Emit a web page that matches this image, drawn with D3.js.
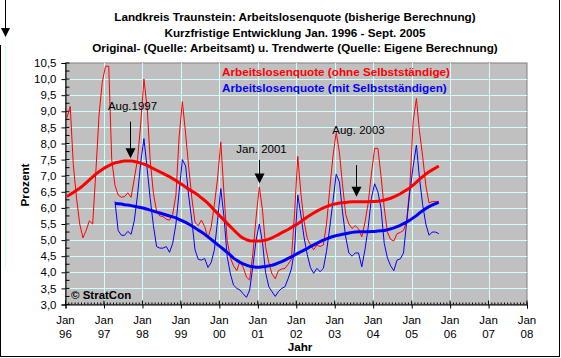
<!DOCTYPE html>
<html><head><meta charset="utf-8">
<script src="https://cdn.jsdelivr.net/npm/d3@7/dist/d3.min.js"></script>
<style>
body{margin:0;background:#fff}
svg{display:block}
text{font-family:"Liberation Sans",Arial,Helvetica,sans-serif;}
</style>
</head><body>
<svg id="chart" width="561" height="358"></svg>
<script>
// ---------- data ----------
const titleLines = [
  "Landkreis Traunstein: Arbeitslosenquote (bisherige Berechnung)",
  "Kurzfristige Entwicklung Jan. 1996 - Sept. 2005",
  "Original- (Quelle: Arbeitsamt) u. Trendwerte (Quelle: Eigene Berechnung)"
];
const seriesNames = [
  "Arbeitslosenquote (ohne Selbstständige)",
  "Arbeitslosenquote (mit Selbstständigen)"
];
const xTickYears = ["96","97","98","99","00","01","02","03","04","05","06","07","08"];
const yTickValues = [3.0,3.5,4.0,4.5,5.0,5.5,6.0,6.5,7.0,7.5,8.0,8.5,9.0,9.5,10.0,10.5];
const yAxisTitle = "Prozent";
const xAxisTitle = "Jahr";
const copyright = "© StratCon";

// monthly series, red from Jan 1996, blue from Apr 1997, both to Sept 2005
const redStart = [1996, 0];
const blueStart = [1997, 3];

const redOriginal = [
  8.8, 9.15, 7.35, 6.3, 5.5, 5.07, 5.3, 5.6, 5.5, 7.1, 8.9, 9.9,
  10.4, 10.4, 7.5, 6.7, 6.4, 6.33, 6.35, 6.47, 6.33, 6.9, 7.5, 8.6,
  10.0, 9.1, 7.5, 6.45, 5.9, 5.75, 5.73, 5.65, 5.62, 5.8, 6.4, 8.2,
  9.3, 8.3, 7.3, 6.3, 5.55, 5.45, 5.62, 5.42, 5.06, 5.4, 6.1, 6.9,
  8.05, 6.4, 5.0, 4.45, 4.2, 4.05, 4.35, 4.15, 3.85, 3.76, 4.6, 5.7,
  6.65, 5.9, 4.8, 4.3, 3.95, 3.8, 4.05, 4.1, 4.12, 4.25, 4.4, 5.8,
  7.6, 6.4, 5.6, 5.05, 4.85, 4.7, 4.85, 4.8, 4.85, 5.5, 6.6, 7.6,
  8.35, 7.7, 6.75, 5.8, 5.5, 5.36, 5.45, 5.35, 5.1, 5.55, 6.15, 7.05,
  7.85, 7.85, 7.0, 6.0, 5.25, 5.02, 4.97, 5.2, 5.24, 5.3, 5.6, 6.7,
  8.7, 9.4, 8.4, 7.6, 6.7, 6.15, 6.2, 6.2, 6.2
];
const blueOriginal = [
  6.2, 5.3, 5.15, 5.15, 5.27, 5.18, 5.6, 6.4, 7.4,
  8.15, 7.2, 6.3, 5.45, 4.8, 4.75, 4.75, 4.8, 4.62, 4.9, 5.5, 6.5,
  7.5, 7.3, 6.4, 5.6, 4.7, 4.4, 4.38, 4.43, 4.15, 4.3, 4.7, 5.6,
  6.6, 5.7, 4.5, 3.95, 3.6, 3.5, 3.45, 3.33, 3.22, 3.45, 4.2, 5.0,
  5.5, 4.9, 4.0, 3.55, 3.4, 3.25, 3.4, 3.5, 3.55, 3.8, 4.1, 4.7,
  6.4, 5.75, 5.1, 4.55, 4.15, 3.97, 4.12, 4.02, 4.12, 4.65, 5.4, 6.2,
  7.05, 6.8, 5.9, 5.1, 4.6, 4.5, 4.6, 4.6, 4.17, 4.7, 5.4, 6.3,
  6.75, 6.5, 6.0, 4.9, 4.45, 4.2, 4.05, 4.38, 4.42, 4.6, 5.6, 6.5,
  7.3, 7.95, 6.95, 6.1, 5.5, 5.15, 5.25, 5.25, 5.2
];
const redTrend = [
  6.35, 6.42, 6.48, 6.55, 6.61, 6.69, 6.78, 6.87, 6.96, 7.05, 7.12, 7.19,
  7.26, 7.31, 7.36, 7.40, 7.42, 7.44, 7.46, 7.46, 7.46, 7.44, 7.42, 7.39,
  7.36, 7.32, 7.27, 7.22, 7.17, 7.12, 7.07, 7.02, 6.97, 6.91, 6.85, 6.78,
  6.72, 6.65, 6.58, 6.52, 6.46, 6.39, 6.31, 6.23, 6.14, 6.04, 5.93, 5.83,
  5.72, 5.62, 5.52, 5.42, 5.32, 5.22, 5.13, 5.06, 5.01, 4.98, 4.97, 4.97,
  4.97, 4.98, 5.00, 5.03, 5.07, 5.12, 5.17, 5.23, 5.28, 5.33, 5.39, 5.45,
  5.51, 5.58, 5.65, 5.72, 5.78, 5.84, 5.90, 5.95, 6.00, 6.04, 6.08, 6.11,
  6.13, 6.15, 6.16, 6.17, 6.18, 6.19, 6.19, 6.19, 6.19, 6.19, 6.19, 6.20,
  6.20, 6.21, 6.22, 6.24, 6.27, 6.30, 6.34, 6.39, 6.44, 6.50, 6.56, 6.63,
  6.71, 6.80, 6.89, 6.97, 7.05, 7.12, 7.18, 7.24, 7.30
];
const blueTrend = [
  6.14, 6.13, 6.12, 6.10, 6.09, 6.07, 6.05, 6.03, 6.01,
  5.99, 5.96, 5.93, 5.90, 5.87, 5.84, 5.81, 5.78, 5.75, 5.72, 5.69, 5.64,
  5.60, 5.55, 5.50, 5.44, 5.38, 5.31, 5.25, 5.18, 5.10, 5.02, 4.94, 4.86,
  4.78, 4.70, 4.62, 4.53, 4.44, 4.37, 4.31, 4.26, 4.22, 4.19, 4.17, 4.16,
  4.16, 4.17, 4.18, 4.20, 4.22, 4.25, 4.29, 4.33, 4.38, 4.43, 4.48, 4.53,
  4.59, 4.64, 4.69, 4.74, 4.80, 4.85, 4.90, 4.95, 5.00, 5.04, 5.08, 5.11,
  5.14, 5.16, 5.18, 5.20, 5.22, 5.24, 5.25, 5.26, 5.26, 5.26, 5.26, 5.27,
  5.27, 5.28, 5.29, 5.30, 5.32, 5.35, 5.38, 5.42, 5.46, 5.51, 5.56, 5.62,
  5.69, 5.76, 5.84, 5.91, 5.98, 6.04, 6.09, 6.13, 6.17
];
// annotations: label, decimal year of arrow, arrow top/bottom value, label value
const annoLabels = ["Aug.1997", "Jan. 2001", "Aug. 2003"];
const annoYears  = [1997.67, 2001.04, 2003.55];
const annoTop    = [8.68, 7.49, 7.33];
const annoBottom = [7.54, 6.76, 6.35];
const annoText   = [9.05, 7.72, 8.3];

// ---------- chart ----------
const svg = d3.select("#chart");
const W = 561, H = 358;
const plot = {left: 65.5, right: 527, top: 63, bottom: 304.5};
const x = d3.scaleTime()
  .domain([new Date(1996,0,1), new Date(2008,0,1)])
  .range([plot.left, plot.right]);
const y = d3.scaleLinear().domain([3, 10.5]).range([plot.bottom, plot.top]);
const yearFrac = v => { const yr = Math.floor(v); return new Date(yr, 0, 1 + Math.round((v-yr)*365)); };
const FONT = "Liberation Sans, Arial, sans-serif";

// outer frame
svg.append("rect").attr("x",0).attr("y",0).attr("width",W).attr("height",H).attr("fill","#fff");
svg.append("line").attr("x1",559.5).attr("x2",559.5).attr("y1",0).attr("y2",357).attr("stroke","#000").attr("stroke-width",1);
svg.append("line").attr("x1",0).attr("x2",560).attr("y1",356.5).attr("y2",356.5).attr("stroke","#000").attr("stroke-width",1);
svg.append("line").attr("x1",0.5).attr("x2",0.5).attr("y1",45).attr("y2",357).attr("stroke","#000").attr("stroke-width",1);

// top-left arrow
svg.append("line").attr("x1",5.5).attr("x2",5.5).attr("y1",0).attr("y2",30).attr("stroke","#000");
svg.append("path").attr("d","M1,28 L10,28 L5.5,37 Z").attr("fill","#000");
svg.append("line").attr("x1",5.5).attr("x2",5.5).attr("y1",37).attr("y2",268).attr("stroke","#ccffff");

// title
svg.append("g").selectAll("text").data(titleLines).join("text")
  .attr("x", 295).attr("y", (d,i) => 21 + i*15.5)
  .attr("text-anchor","middle").attr("font-size","11.7px").attr("font-weight","bold")
  .text(d => d);

// plot background
svg.append("rect").attr("x",plot.left).attr("y",plot.top)
  .attr("width",plot.right-plot.left).attr("height",plot.bottom-plot.top)
  .attr("fill","#c0c0c0").attr("stroke","#808080").attr("stroke-width",1);

// gridlines
const grid = svg.append("g").attr("stroke","#ccffff").attr("stroke-width",1);
grid.selectAll("line.h").data(yTickValues.filter(v => v>3 && v<10.5)).join("line")
  .attr("x1",plot.left).attr("x2",plot.right)
  .attr("y1",d=>Math.round(y(d))+0.5).attr("y2",d=>Math.round(y(d))+0.5);
const yearDates = xTickYears.map((s,i) => new Date(1996+i,0,1));
grid.selectAll("line.v").data(yearDates.slice(1,-1)).join("line")
  .attr("y1",plot.top).attr("y2",plot.bottom)
  .attr("x1",d=>Math.round(x(d))+0.5).attr("x2",d=>Math.round(x(d))+0.5);

// y axis
const yAxis = d3.axisLeft(y).tickValues(yTickValues)
  .tickFormat(d => d.toFixed(1).replace(".", ",")).tickSize(4).tickPadding(5);
const gy = svg.append("g").attr("transform",`translate(${plot.left},0)`).call(yAxis);
gy.select(".domain").attr("stroke","#000");
gy.selectAll("text").attr("font-size","11.5px").attr("fill","#000").attr("font-family",FONT);
const yMinor = d3.range(3, 10.5001, 0.25);
gy.append("g").selectAll("line").data(yMinor).join("line")
  .attr("x1",0).attr("x2",4).attr("y1",d=>y(d)).attr("y2",d=>y(d)).attr("stroke","#000");

// x axis
const xAxis = d3.axisBottom(x).tickValues(yearDates).tickFormat("").tickSize(4);
const gx = svg.append("g").attr("transform",`translate(0,${plot.bottom})`).call(xAxis);
gx.select(".domain").attr("stroke","#000");
const monthDates = d3.timeMonth.range(new Date(1996,0,1), new Date(2008,0,2));
gx.append("g").selectAll("line").data(monthDates).join("line")
  .attr("x1",d=>x(d)).attr("x2",d=>x(d)).attr("y1",0).attr("y2",-2).attr("stroke","#000");
gx.append("g").selectAll("line").data(yearDates).join("line")
  .attr("x1",d=>x(d)).attr("x2",d=>x(d)).attr("y1",0).attr("y2",-4).attr("stroke","#000");
const xl = gx.append("g").attr("fill","#000").selectAll("text").data(xTickYears).join("text")
  .attr("x",(d,i)=>x(yearDates[i])).attr("text-anchor","middle")
  .attr("font-size","11.5px").attr("font-family",FONT).attr("fill","#000");
xl.append("tspan").attr("x",(d,i)=>x(yearDates[i])).attr("y",19).text("Jan");
xl.append("tspan").attr("x",(d,i)=>x(yearDates[i])).attr("y",33).text(d=>d);

// axis titles
svg.append("text").attr("x",300).attr("y",351).attr("text-anchor","middle")
  .attr("font-size","11.7px").attr("font-weight","bold").text(xAxisTitle);
svg.append("text").attr("transform","translate(29,185) rotate(-90)").attr("text-anchor","middle")
  .attr("font-size","11.7px").attr("font-weight","bold").text(yAxisTitle);

// series
const monthDate = (start, i) => new Date(start[0], start[1] + i, 15);
const line = start => d3.line().x((d,i)=>x(monthDate(start,i))).y(d=>y(d));
const lines = svg.append("g").attr("fill","none").attr("stroke-linejoin","round");
lines.append("path").attr("d", line(redStart)(redOriginal)).attr("stroke","#ff0000").attr("stroke-width",1);
lines.append("path").attr("d", line(blueStart)(blueOriginal)).attr("stroke","#0000ff").attr("stroke-width",1);
lines.append("path").attr("d", line(redStart)(redTrend)).attr("stroke","#ff0000").attr("stroke-width",3);
lines.append("path").attr("d", line(blueStart)(blueTrend)).attr("stroke","#0000ff").attr("stroke-width",3);

// legend (in-plot text)
svg.append("text").attr("x",222).attr("y",76).attr("font-size","11.7px").attr("font-weight","bold")
  .attr("fill","#ff0000").text(seriesNames[0]);
svg.append("text").attr("x",222).attr("y",92).attr("font-size","11.7px").attr("font-weight","bold")
  .attr("fill","#0000ff").text(seriesNames[1]);

// annotations
const ann = svg.append("g");
annoLabels.forEach((lab,i) => {
  const ax = Math.round(x(yearFrac(annoYears[i]))) + 0.5;
  const yt = y(annoTop[i]), yb = y(annoBottom[i]);
  ann.append("text").attr("x",ax+2).attr("y",y(annoText[i])).attr("text-anchor","middle")
    .attr("font-size","11.5px").text(lab);
  ann.append("line").attr("x1",ax).attr("x2",ax).attr("y1",yt).attr("y2",yb-6).attr("stroke","#000");
  ann.append("path").attr("d",`M${ax-5},${yb-10} L${ax+5},${yb-10} L${ax},${yb} Z`).attr("fill","#000");
});

// copyright
svg.append("text").attr("x",71).attr("y",299).attr("font-size","11.5px").attr("font-weight","bold").text(copyright);
</script>
</body></html>
